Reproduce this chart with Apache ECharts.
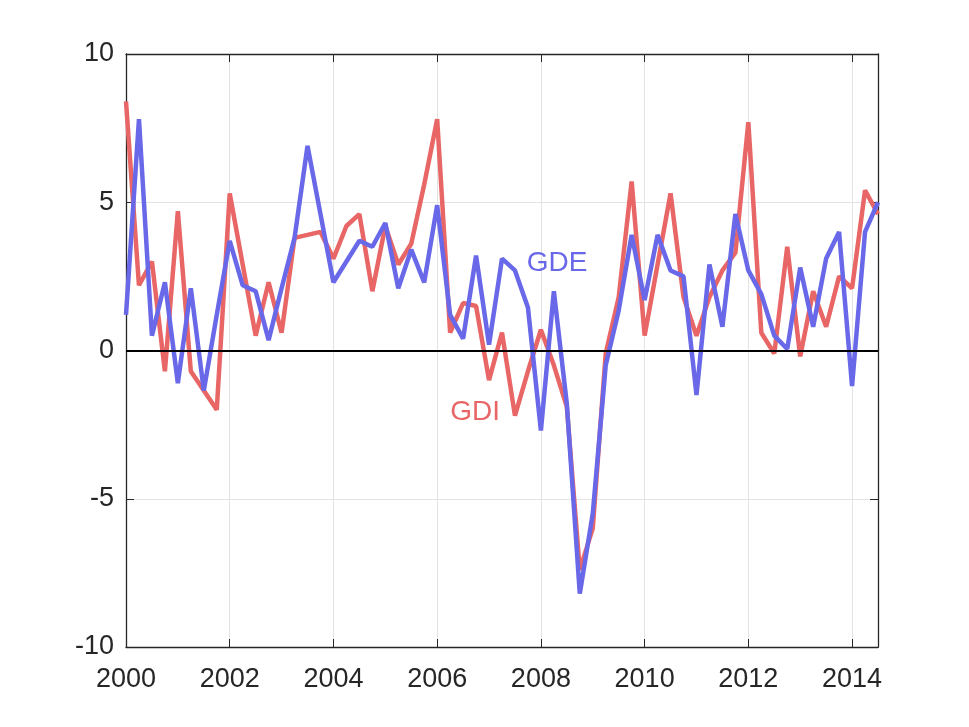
<!DOCTYPE html>
<html>
<head>
<meta charset="utf-8">
<script src="https://cdn.jsdelivr.net/npm/echarts@6/dist/echarts.min.js"></script>
<style>
  html, body { margin: 0; padding: 0; background: #fff; }
  #chart { width: 969px; height: 727px; }
</style>
</head>
<body>
<div id="chart"></div>
<script>
// quarterly dates (year fractions)
const quarters = [
  2000, 2000.25, 2000.5, 2000.75, 2001, 2001.25, 2001.5, 2001.75,
  2002, 2002.25, 2002.5, 2002.75, 2003, 2003.25, 2003.5, 2003.75,
  2004, 2004.25, 2004.5, 2004.75, 2005, 2005.25, 2005.5, 2005.75,
  2006, 2006.25, 2006.5, 2006.75, 2007, 2007.25, 2007.5, 2007.75,
  2008, 2008.25, 2008.5, 2008.75, 2009, 2009.25, 2009.5, 2009.75,
  2010, 2010.25, 2010.5, 2010.75, 2011, 2011.25, 2011.5, 2011.75,
  2012, 2012.25, 2012.5, 2012.75, 2013, 2013.25, 2013.5, 2013.75,
  2014, 2014.25, 2014.5
];

const gdi = [
  8.4, 2.2, 3.0, -0.7, 4.7, -0.7, -1.35, -2.0,
  5.3, 2.9, 0.5, 2.3, 0.6, 3.8, 3.9, 4.0,
  3.1, 4.2, 4.6, 2.0, 4.2, 2.9, 3.6, 5.6,
  7.8, 0.6, 1.6, 1.5, -1.0, 0.6, -2.2, -0.7,
  0.7, -0.5, -1.9, -7.4, -6.0, -0.1, 1.8, 5.7,
  0.5, 2.9, 5.3, 1.8, 0.5, 1.8, 2.7, 3.3,
  7.7, 0.6, -0.1, 3.5, -0.2, 2.0, 0.8, 2.5,
  2.1, 5.4, 4.6
];

const gde = [
  1.2, 7.8, 0.5, 2.3, -1.1, 2.1, -1.35, 1.2,
  3.7, 2.2, 2.0, 0.35, 2.1, 3.8, 6.9, 4.6,
  2.3, 3.0, 3.7, 3.5, 4.3, 2.1, 3.4, 2.3,
  4.9, 1.2, 0.4, 3.2, 0.2, 3.1, 2.7, 1.45,
  -2.7, 2.0, -1.8, -8.2, -5.5, -0.5, 1.35, 3.9,
  1.7, 3.9, 2.7, 2.5, -1.5, 2.9, 0.8, 4.6,
  2.7, 1.9, 0.5, 0.05, 2.8, 0.8, 3.1, 4.0,
  -1.2, 4.0, 5.0
];

// where the series names sit on the chart
const gdeLabelAt = [2008.31, 2.95];
const gdiLabelAt = [2006.73, -2.07];

const RED = "#e86666";
const BLUE = "#6868e8";
const FONT = "Liberation Sans";
const AXIS_COLOR = "#262626";

const chart = echarts.init(document.getElementById("chart"));

const tickStyle = { inside: true, length: 8, lineStyle: { color: AXIS_COLOR, width: 1 } };
const lineStyleAxis = { show: true, onZero: false, lineStyle: { color: AXIS_COLOR, width: 1.3 } };

chart.setOption({
  animation: false,
  backgroundColor: "#fff",
  grid: { left: 126, right: 91, top: 54, bottom: 80 },
  xAxis: [
    {
      type: "value",
      min: 2000, max: 2014.5, interval: 2,
      axisLine: lineStyleAxis,
      axisTick: tickStyle,
      axisLabel: {
        color: AXIS_COLOR, fontSize: 27, fontFamily: FONT, margin: 19,
        showMaxLabel: false,
        formatter: v => String(v)
      },
      splitLine: { show: true, lineStyle: { color: "#e3e3e3", width: 1 } }
    },
    {
      type: "value", position: "top",
      min: 2000, max: 2014.5, interval: 2,
      axisLine: lineStyleAxis,
      axisTick: tickStyle,
      axisLabel: { show: false },
      splitLine: { show: false }
    }
  ],
  yAxis: [
    {
      type: "value",
      min: -10, max: 10, interval: 5,
      axisLine: lineStyleAxis,
      axisTick: tickStyle,
      axisLabel: { color: AXIS_COLOR, fontSize: 27, fontFamily: FONT, margin: 12 },
      splitLine: { show: true, lineStyle: { color: "#e3e3e3", width: 1 } }
    },
    {
      type: "value", position: "right",
      min: -10, max: 10, interval: 5,
      axisLine: lineStyleAxis,
      axisTick: tickStyle,
      axisLabel: { show: false },
      splitLine: { show: false }
    }
  ],
  series: [
    {
      name: "GDI",
      type: "line",
      data: quarters.map((q, i) => [q, gdi[i]]),
      showSymbol: false,
      lineStyle: { color: RED, width: 4.5 },
      itemStyle: { color: RED },
      markPoint: {
        symbol: "circle", symbolSize: 0, silent: true,
        data: [{ coord: gdiLabelAt }],
        label: { show: true, position: "inside", formatter: "GDI", color: RED, fontSize: 28, fontFamily: FONT }
      }
    },
    {
      name: "GDE",
      type: "line",
      data: quarters.map((q, i) => [q, gde[i]]),
      showSymbol: false,
      lineStyle: { color: BLUE, width: 4.5 },
      itemStyle: { color: BLUE },
      markPoint: {
        symbol: "circle", symbolSize: 0, silent: true,
        data: [{ coord: gdeLabelAt }],
        label: { show: true, position: "inside", formatter: "GDE", color: BLUE, fontSize: 28, fontFamily: FONT }
      },
      // zero line
      markLine: {
        silent: true, symbol: "none", label: { show: false },
        lineStyle: { color: "#000", width: 2, type: "solid" },
        data: [{ yAxis: 0 }]
      }
    }
  ]
});

window.addEventListener("resize", () => chart.resize());
</script>
</body>
</html>
